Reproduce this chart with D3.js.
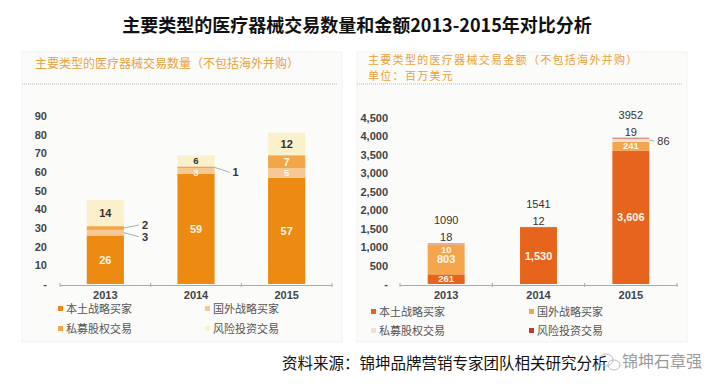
<!DOCTYPE html>
<html>
<head>
<meta charset="utf-8">
<script src="https://cdn.jsdelivr.net/npm/d3@7"></script>
<style>
  body { margin: 0; background: #fff; }
  svg { display: block; }
  text { font-family: "Liberation Sans", Arial, sans-serif; }
  .cjk { font-family: "Noto Sans CJK SC", sans-serif; }
</style>
</head>
<body>
<svg id="chart" width="715" height="389"></svg>
<script>
// data
var years = ['2013', '2014', '2015'];
var seriesNames = ['本土战略买家', '国外战略买家', '私募股权交易', '风险投资交易'];

var countDomestic = [26, 59, 57];
var countForeign = [3, 3, 5];
var countPE = [2, 1, 7];
var countVC = [14, 6, 12];
var countTicks = [0, 10, 20, 30, 40, 50, 60, 70, 80, 90];

var amtDomestic = [261, 1530, 3606];
var amtForeign = [803, 0, 241];
var amtPE = [10, 0, 86];
var amtVC = [18, 12, 19];
var amtTotals = [1090, 1541, 3952];
var amtTicks = [0, 500, 1000, 1500, 2000, 2500, 3000, 3500, 4000, 4500];

// where each segment label goes: in / out (callout) / top / none
var countLabelMode = [['in', 'out', 'out', 'in'], ['in', 'in', 'out', 'in'], ['in', 'in', 'in', 'in']];
var amtLabelMode = [['in', 'in', 'in', 'top'], ['in', 'none', 'none', 'top'], ['in', 'in', 'out', 'top']];

var svg = d3.select('#chart');

// title
svg.append('text').attr('class', 'cjk')
  .attr('x', 357).attr('y', 32)
  .attr('text-anchor', 'middle')
  .style('font-size', '18px').style('font-weight', 'bold').attr('fill', '#111')
  .text('主要类型的医疗器械交易数量和金额2013-2015年对比分析');

function panel(opt) {
  var g = svg.append('g');
  g.append('rect').attr('x', opt.px).attr('y', 52).attr('width', opt.pw).attr('height', 290)
    .attr('fill', '#fbfbfa').attr('stroke', '#f1f1f1');

  opt.heads.forEach(function (h, i) {
    g.append('text').attr('class', 'cjk')
      .attr('x', opt.headX).attr('y', opt.headY + i * 16)
      .style('font-size', opt.headSize).style('letter-spacing', opt.headSpacing)
      .attr('fill', '#e9a23b')
      .text(h);
  });
  g.append('line')
    .attr('x1', opt.px).attr('x2', opt.px + opt.pw - 4)
    .attr('y1', 84).attr('y2', 84)
    .attr('stroke', '#bbb').attr('stroke-dasharray', '1,1');

  var x = d3.scaleBand().domain(years).range(opt.xRange)
    .paddingInner(opt.pad).paddingOuter(opt.pad / 2);
  var y = d3.scaleLinear().domain(opt.yDomain).range([284, opt.yTop]);

  var stacked = years.map(function (yr, i) {
    var y0 = 0;
    return opt.series.map(function (s, k) {
      var seg = { year: yr, i: i, k: k, v: s[i], y0: y0, y1: y0 + s[i] };
      y0 += s[i];
      return seg;
    });
  });

  // bars
  stacked.forEach(function (segs) {
    g.selectAll(null).data(segs.filter(function (d) { return d.v > 0; })).enter()
      .append('rect')
      .attr('x', function (d) { return x(d.year); })
      .attr('width', x.bandwidth())
      .attr('y', function (d) { return y(d.y1); })
      .attr('height', function (d) { return y(d.y0) - y(d.y1); })
      .attr('fill', function (d) { return opt.colors[d.k]; });
  });

  // segment labels
  stacked.forEach(function (segs) {
    segs.forEach(function (d) {
      var mode = opt.modes[d.i][d.k];
      if (mode === 'none') return;
      var cx = x(d.year) + x.bandwidth() / 2;
      var mid = (y(d.y0) + y(d.y1)) / 2;
      var txt = d.v >= 1000 ? d3.format(',')(d.v) : d.v;
      var small = (y(d.y0) - y(d.y1)) < 12;
      if (mode === 'in') {
        var key = d.i + '-' + d.k;
        var ty = opt.inOffset && opt.inOffset[key] !== undefined ? y(d.y1) + opt.inOffset[key] : mid;
        g.append('text').attr('x', cx).attr('y', ty).attr('dy', '0.35em')
          .attr('text-anchor', 'middle')
          .style('font-size', small ? '9.5px' : '11px').style('font-weight', 'bold')
          .attr('fill', opt.inDark[d.k] ? '#333' : '#fff7ea')
          .text(txt);
      } else if (mode === 'top') {
        g.append('text').attr('x', cx).attr('y', y(d.y1) - 6).attr('dy', '0.35em')
          .attr('text-anchor', 'middle')
          .style('font-size', '11px').attr('fill', '#333')
          .text(txt);
      } else {
        var bx = x(d.year) + x.bandwidth();
        var ly = mid + (opt.outDy[d.i + '-' + d.k] || 0);
        g.append('line').attr('x1', bx).attr('x2', bx + opt.outLen)
          .attr('y1', mid).attr('y2', ly)
          .attr('stroke', '#999').attr('stroke-width', 0.8);
        g.append('text').attr('x', bx + opt.outLen + 3).attr('y', ly).attr('dy', '0.35em')
          .style('font-size', '11px').style('font-weight', opt.outBold ? 'bold' : 'normal').attr('fill', '#333')
          .text(txt);
      }
    });
  });

  // totals
  if (opt.totals) {
    g.selectAll(null).data(opt.totals).enter()
      .append('text')
      .attr('x', function (d, i) { return x(years[i]) + x.bandwidth() / 2; })
      .attr('y', function (d, i) { return y(stacked[i][3].y1) - 23; })
      .attr('dy', '0.35em').attr('text-anchor', 'middle')
      .style('font-size', '11px').attr('fill', '#333')
      .text(function (d) { return d; });
  }

  // axes
  var ya = g.append('g').attr('transform', 'translate(' + opt.xRange[0] + ',0)')
    .call(d3.axisLeft(y).tickValues(opt.ticks).tickSize(0).tickPadding(opt.tickPad)
      .tickFormat(function (d) { return d === 0 ? '-' : d3.format(',')(d); }));
  ya.select('.domain').remove();
  ya.selectAll('text').style('font-size', '11px').style('font-weight', 'bold')
    .attr('fill', '#444').style('font-family', '"Liberation Sans", Arial, sans-serif');

  var xa = g.append('g').attr('transform', 'translate(0,285)')
    .call(d3.axisBottom(x).tickSize(0).tickSizeOuter(0).tickPadding(6));
  xa.select('.domain').attr('stroke', '#aaa');
  xa.selectAll('text').style('font-size', '11px').style('font-weight', 'bold')
    .attr('fill', '#444').style('font-family', '"Liberation Sans", Arial, sans-serif');
  var bounds = [opt.xRange[0]].concat(years.slice(1).map(function (yr) {
    return x(yr) - x.step() * x.paddingInner() / 2;
  })).concat([opt.xRange[1]]);
  xa.selectAll('.bnd').data(bounds).enter().append('line')
    .attr('x1', function (d) { return d; }).attr('x2', function (d) { return d; })
    .attr('y1', -2).attr('y2', 2).attr('stroke', '#aaa');

  // legend
  seriesNames.forEach(function (name, k) {
    var lx = opt.legX[k % 2];
    var ly = opt.legY[Math.floor(k / 2)];
    g.append('rect').attr('x', lx).attr('y', ly - 3).attr('width', 5).attr('height', 5)
      .attr('fill', opt.colors[k]);
    g.append('text').attr('class', 'cjk')
      .attr('x', lx + 8).attr('y', ly).attr('dy', '0.35em')
      .style('font-size', '11px').attr('fill', '#555')
      .text(name);
  });
}

panel({
  px: 22, pw: 320, headX: 35, headY: 68, headSize: '12px', headSpacing: '0px',
  heads: ['主要类型的医疗器械交易数量（不包括海外并购）'],
  xRange: [60, 332], pad: 0.59,
  yDomain: [0, 90], yTop: 116, ticks: countTicks, tickPad: 13,
  series: [countDomestic, countForeign, countPE, countVC],
  colors: ['#ec8a12', '#f8c894', '#f3a647', '#fbf0cc'],
  inDark: [false, false, false, true],
  modes: countLabelMode,
  inOffset: { '1-1': 4 },
  outDy: { '0-1': 4, '0-2': -3, '1-2': 5 },
  outLen: 15, outBold: true,
  legX: [58, 205], legY: [309, 329]
});

panel({
  px: 357, pw: 330, headX: 368, headY: 64, headSize: '11px', headSpacing: '1.3px',
  heads: ['主要类型的医疗器械交易金额（不包括海外并购）', '单位：百万美元'],
  xRange: [400, 677], pad: 0.6,
  yDomain: [0, 4500], yTop: 117.5, ticks: amtTicks, tickPad: 12,
  series: [amtDomestic, amtForeign, amtPE, amtVC],
  colors: ['#e6641c', '#f5a54c', '#eeded6', '#c0392b'],
  inDark: [false, false, false, false],
  modes: amtLabelMode,
  inOffset: { '0-2': 5 },
  outDy: { '2-2': 1 },
  outLen: 5, outBold: false,
  totals: amtTotals,
  legX: [371, 529], legY: [312, 331]
});

// source + watermark
svg.append('text').attr('class', 'cjk')
  .attr('x', 282).attr('y', 369)
  .style('font-size', '15.5px').attr('fill', '#111')
  .text('资料来源：锦坤品牌营销专家团队相关研究分析');
svg.append('ellipse').attr('cx', 606).attr('cy', 360).attr('rx', 7).attr('ry', 6)
  .attr('fill', 'none').attr('stroke', '#bbb');
svg.append('ellipse').attr('cx', 614).attr('cy', 365).attr('rx', 6).attr('ry', 5)
  .attr('fill', 'none').attr('stroke', '#bbb');
svg.append('text').attr('class', 'cjk')
  .attr('x', 622).attr('y', 367)
  .style('font-size', '16px').attr('fill', '#9a9a9a')
  .text('锦坤石章强');
</script>
</body>
</html>
